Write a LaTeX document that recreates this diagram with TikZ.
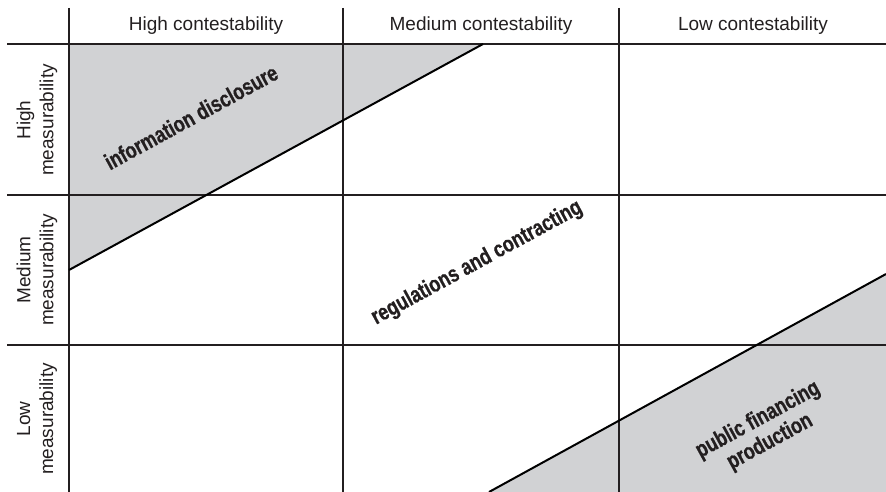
\documentclass[tikz,border=0pt]{standalone}
\usepackage{fontspec}
\setmainfont{Liberation Sans}
\newfontfamily\cellfont[FakeBold=0.8]{Liberation Sans Bold}
\newcommand{\squeeze}[1]{\scalebox{0.78}[1]{#1}}
\definecolor{cellgray}{HTML}{D1D2D4}
\definecolor{ink}{HTML}{231F20}
\tikzset{
	head/.style={text=ink,font=\fontsize{19}{23}\selectfont,inner sep=0pt,align=center},
	zone/.style={text=ink,font=\cellfont\fontsize{23}{25}\selectfont,inner sep=0pt,align=center,rotate=28.6}
}

\begin{document}
\begin{tikzpicture}[x=1pt,y=-1pt]
	\useasboundingbox (0,0) rectangle (886,492);
	
	%SHADING
	\fill[cellgray] (69,44)--(483,44)--(69,270)--cycle;
	\fill[cellgray] (886,274)--(886,492)--(489,492)--cycle;
	
	%GRID
	\draw[ink,line width=1.1pt] (7,44)--(886,44);
	\foreach \y in {195,345}
	\draw[ink,line width=1.1pt] (7,\y)--(886,\y);
	\foreach \x in {69,343,619}
	\draw[ink,line width=1.1pt] (\x,8)--(\x,492);
	
	%BORDERS
	\draw[black,line width=2pt] (69,270)--(483,44);
	\draw[black,line width=2pt] (489,492)--(886,274);
	
	%HEADS
	\node[head] (hicont) at (206,26) {High contestability};
	\node[head] (medcont) at (481,26) {Medium contestability};
	\node[head] (locont) at (753,26) {Low contestability};
	\node[head,rotate=90] (himeas) at (37,120) {High\\measurability};
	\node[head,rotate=90] (medmeas) at (37,270) {Medium\\measurability};
	\node[head,rotate=90] (lomeas) at (37,419) {Low\\measurability};
	
	%ZONES
	\node[zone] (disclose) at (191,117) {\squeeze{information disclosure}};
	\node[zone] (regulate) at (477,263) {\squeeze{regulations and contracting}};
	\node[zone] (finance) at (764,431) {\squeeze{public financing}\\\squeeze{production}};
\end{tikzpicture}
\end{document}
